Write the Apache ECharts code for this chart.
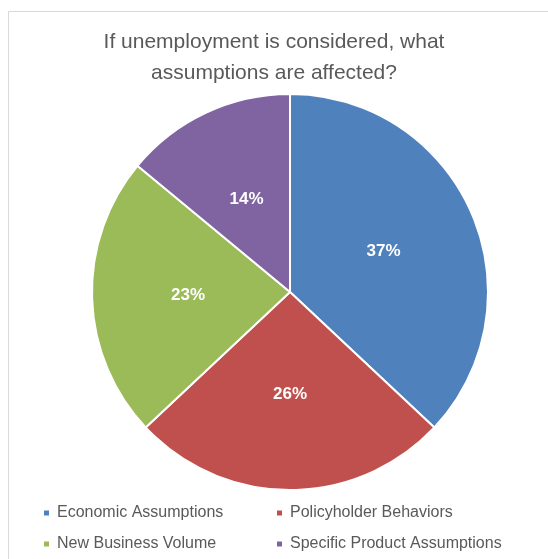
<!DOCTYPE html>
<html><head><meta charset="utf-8">
<script src="https://cdn.jsdelivr.net/npm/echarts@6/dist/echarts.min.js"></script>
<style>html,body{margin:0;padding:0;background:#fff}#c{width:548px;height:559px}</style>
</head><body><div id="c"></div>
<script>
const categories = ["Economic Assumptions","Policyholder Behaviors","New Business Volume","Specific Product Assumptions"];
const values = [37, 26, 23, 14];
const colors = ["#4F81BD","#C0504D","#9BBB59","#8064A2"];
const titleText = "If unemployment is considered, what\nassumptions are affected?";

const chart = echarts.init(document.getElementById('c'), null, {renderer:'canvas'});
const font = "'Liberation Sans', Arial, sans-serif";
const legendPos = [[37,500],[270,500],[37,531],[270,531]];
const option = {
  animation:false,
  color: colors,
  graphic:[{type:'rect', shape:{x:8.5,y:11.5,width:600,height:600}, style:{fill:'none', stroke:'#D9D9D9', lineWidth:1}}],
  title:{text:titleText, left:'center', top:22, textStyle:{fontFamily:font, fontSize:21, fontWeight:'normal', color:'#595959', lineHeight:31}},
  legend: categories.map((n,i)=>({data:[n], left:legendPos[i][0], top:legendPos[i][1], itemWidth:7, itemHeight:7, icon:'rect', itemGap:6,
    textStyle:{fontFamily:font, fontSize:16, color:'#595959', padding:[0,0,0,2]}})),
  series:[{type:'pie', center:[290,292], radius:[0,198], startAngle:90, clockwise:true,
    data: categories.map((n,i)=>({name:n, value:values[i]})),
    itemStyle:{borderColor:'#fff', borderWidth:2},
    label:{show:true, position:'inside', formatter:'{d}%', color:'#fff', fontWeight:'bold', fontSize:17, fontFamily:font},
    labelLine:{show:false}, emphasis:{disabled:true}}]
};
chart.setOption(option);
</script></body></html>
